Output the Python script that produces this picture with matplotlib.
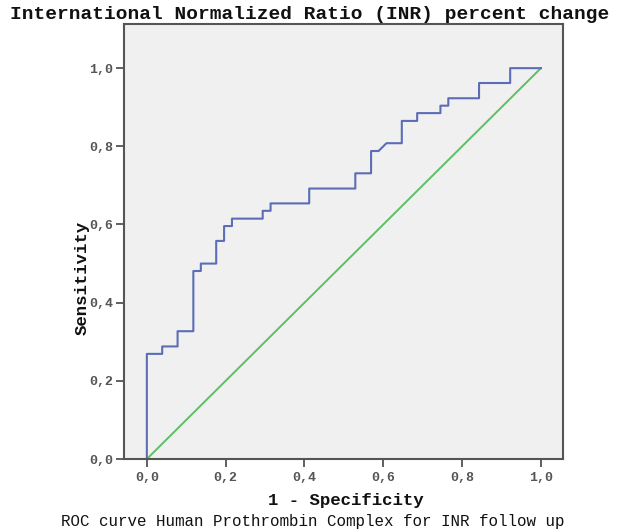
import matplotlib
matplotlib.use("Agg")
from matplotlib import pyplot as plt

# ROC curve vertices (1 - specificity, sensitivity)
fpr = [0.0, 0.0, 0.039, 0.039, 0.078, 0.078, 0.118, 0.118, 0.137, 0.137,
       0.176, 0.176, 0.196, 0.196, 0.216, 0.216, 0.294, 0.294, 0.314, 0.314,
       0.412, 0.412, 0.529, 0.529, 0.569, 0.569, 0.588, 0.608, 0.647, 0.647,
       0.686, 0.686, 0.745, 0.745, 0.765, 0.765, 0.843, 0.843, 0.922, 0.922, 1.0]
tpr = [0.0, 0.269, 0.269, 0.288, 0.288, 0.327, 0.327, 0.481, 0.481, 0.5,
       0.5, 0.558, 0.558, 0.596, 0.596, 0.615, 0.615, 0.635, 0.635, 0.654,
       0.654, 0.692, 0.692, 0.731, 0.731, 0.788, 0.788, 0.808, 0.808, 0.865,
       0.865, 0.885, 0.885, 0.904, 0.904, 0.923, 0.923, 0.962, 0.962, 1.0, 1.0]
ref_line = [0.0, 1.0]
ticks = [0.0, 0.2, 0.4, 0.6, 0.8, 1.0]
tick_labels = ["0,0", "0,2", "0,4", "0,6", "0,8", "1,0"]

title = "International Normalized Ratio (INR) percent change"
xlab = "1 - Specificity"
ylab = "Sensitivity"
caption = "ROC curve Human Prothrombin Complex for INR follow up"

mono = "Liberation Mono"

fig = plt.figure(figsize=(6.19, 5.32), dpi=100)
ax = fig.add_axes([0.2003, 0.1372, 0.7092, 0.8177])
ax.set_facecolor("#f0f0f0")

ax.plot(ref_line, ref_line, color="#5cc063", lw=1.4)
ax.plot(fpr, tpr, color="#5b6db6", lw=1.5)

ax.set_xlim(-0.058, 1.056)
ax.set_ylim(0, 1.113)
ax.set_xticks(ticks)
ax.set_yticks(ticks)
ax.set_xticklabels(tick_labels, family=mono, fontsize=9.5, color="#555555", fontweight="bold")
ax.set_yticklabels(tick_labels, family=mono, fontsize=9.5, color="#555555", fontweight="bold")
ax.tick_params(direction="out", length=6, width=1.2, color="#444444", pad=2)
ax.tick_params(axis="x", pad=3)

for side in ax.spines.values():
    side.set_color("#555555")
    side.set_linewidth(1.5)

fig.text(0.5, 0.972, title, ha="center", va="center", family=mono,
         fontweight="bold", fontsize=14, color="#111111")
fig.text(0.559, 0.06, xlab, ha="center", va="center", family=mono,
         fontweight="bold", fontsize=12.5, color="#111111")
fig.text(0.132, 0.478, ylab, ha="center", va="center", rotation=90, family=mono,
         fontweight="bold", fontsize=12.5, color="#111111")
fig.text(0.506, 0.019, caption, ha="center", va="center", family=mono,
         fontsize=11.4, color="#111111")

fig.savefig("out.png", dpi=100)
